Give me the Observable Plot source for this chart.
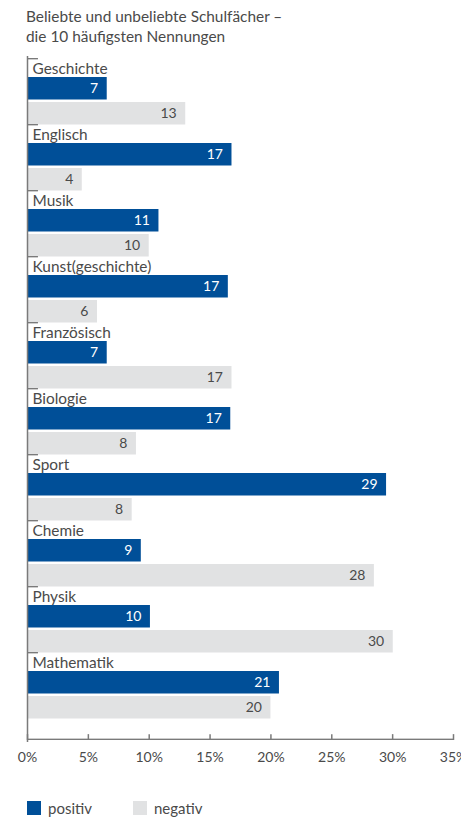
<!DOCTYPE html>
<html><head><meta charset="utf-8">
<script src="https://cdn.jsdelivr.net/npm/d3@7"></script>
<script src="https://cdn.jsdelivr.net/npm/@observablehq/plot@0.6"></script>
<style>
body{margin:0;background:#fff;font-family:Lato,"Open Sans",sans-serif;color:#4a4a4a;width:461px;height:817px;overflow:hidden;position:relative;}
#chart{position:absolute;left:0;top:0;}
#title{position:absolute;left:26px;top:6px;font-size:15.4px;line-height:20px;z-index:2;}
#legend{position:absolute;top:801px;left:27px;font-size:15px;z-index:2;}
.item{position:absolute;top:0;display:flex;align-items:center;white-space:nowrap;line-height:14px;height:14px;}
.sw{width:14px;height:14px;display:inline-block;margin-right:7px;}
</style></head>
<body>
<div id="chart"></div>
<div id="title">Beliebte und unbeliebte Schulfächer –<br>die 10 häufigsten Nennungen</div>
<div id="legend"></div>
<script>
const subjects = ["Geschichte","Englisch","Musik","Kunst(geschichte)","Französisch","Biologie","Sport","Chemie","Physik","Mathematik"];
const positiv = [6.55, 16.8, 10.8, 16.5, 6.55, 16.7, 29.5, 9.35, 10.1, 20.7];
const negativ = [13.0, 4.5, 10.0, 5.75, 16.8, 8.95, 8.6, 28.5, 30.05, 20.0];
const positivLabels = ["7","17","11","17","7","17","29","9","10","21"];
const negativLabels = ["13","4","10","6","17","8","8","28","30","20"];
const xTicks = [0,5,10,15,20,25,30,35];
const seriesNames = ["positiv","negativ"];
const seriesColors = ["#004f98","#e1e2e3"];

const W = 461, H = 772, MT = 56, MB = 30;
const yDomain = [];
subjects.forEach(s => { yDomain.push(s+"|label", s+"|pos", s+"|neg"); });
const spacer = "|spacer";
yDomain.push(spacer);
const bw = (H - MT - MB) / yDomain.length;

const posRows = subjects.map((s,i) => ({key: s+"|pos", v: positiv[i], t: positivLabels[i]}));
const negRows = subjects.map((s,i) => ({key: s+"|neg", v: negativ[i], t: negativLabels[i]}));
const labRows = subjects.map(s => ({key: s+"|label", s}));
const axisColor = "#7a7a7a";

const chart = Plot.plot({
  width: W, height: H,
  marginTop: MT, marginBottom: MB, marginLeft: 27, marginRight: 8,
  style: {background: "transparent", fontFamily: "Lato, 'Open Sans', sans-serif", color: "#4a4a4a"},
  x: {domain: [xTicks[0], xTicks[xTicks.length-1]], label: null},
  y: {type: "band", domain: yDomain, padding: 0, axis: null},
  marks: [
    Plot.barX(posRows, {x: "v", y: "key", fill: seriesColors[0], insetTop: -3, insetBottom: 2.5}),
    Plot.barX(negRows, {x: "v", y: "key", fill: seriesColors[1], insetTop: 0, insetBottom: -0.5}),
    Plot.text(posRows, {x: "v", y: "key", text: "t", textAnchor: "end", dx: -9, dy: -2.5, fill: "white", fontSize: 14}),
    Plot.text(negRows, {x: "v", y: "key", text: "t", textAnchor: "end", dx: -9, fill: "#4a4a4a", fontSize: 14}),
    Plot.text(labRows, {x: () => 0, y: "key", text: "s", textAnchor: "start", dx: 5, dy: -0.5, fill: "#4a4a4a", fontSize: 15.4}),
    Plot.barX(labRows, {x1: () => 0, x2: () => 0.9, y: "key", fill: axisColor, insetBottom: bw - 1.5}),
    Plot.barX([spacer], {x1: () => xTicks[0], x2: () => xTicks[xTicks.length-1], y: d => d, fill: axisColor, insetTop: bw - 1.5}),
    Plot.tickX(xTicks, {x: d => d, y: () => spacer, insetTop: bw - 6, stroke: axisColor, strokeWidth: 1.5}),
    Plot.ruleX([0], {stroke: axisColor, strokeWidth: 1.5}),
    Plot.axisX({ticks: xTicks, tickSize: 0, tickPadding: 10, tickFormat: d => d + "%", fontSize: 14, fill: "#4a4a4a", label: null})
  ]
});
document.getElementById("chart").appendChild(chart);

const legend = document.getElementById("legend");
const legendX = [0, 106];
seriesNames.forEach((n,i) => {
  const it = document.createElement("div");
  it.className = "item";
  it.style.left = legendX[i] + "px";
  const sw = document.createElement("span");
  sw.className = "sw"; sw.style.background = seriesColors[i];
  it.appendChild(sw);
  it.appendChild(document.createTextNode(n));
  legend.appendChild(it);
});
</script>
</body></html>
